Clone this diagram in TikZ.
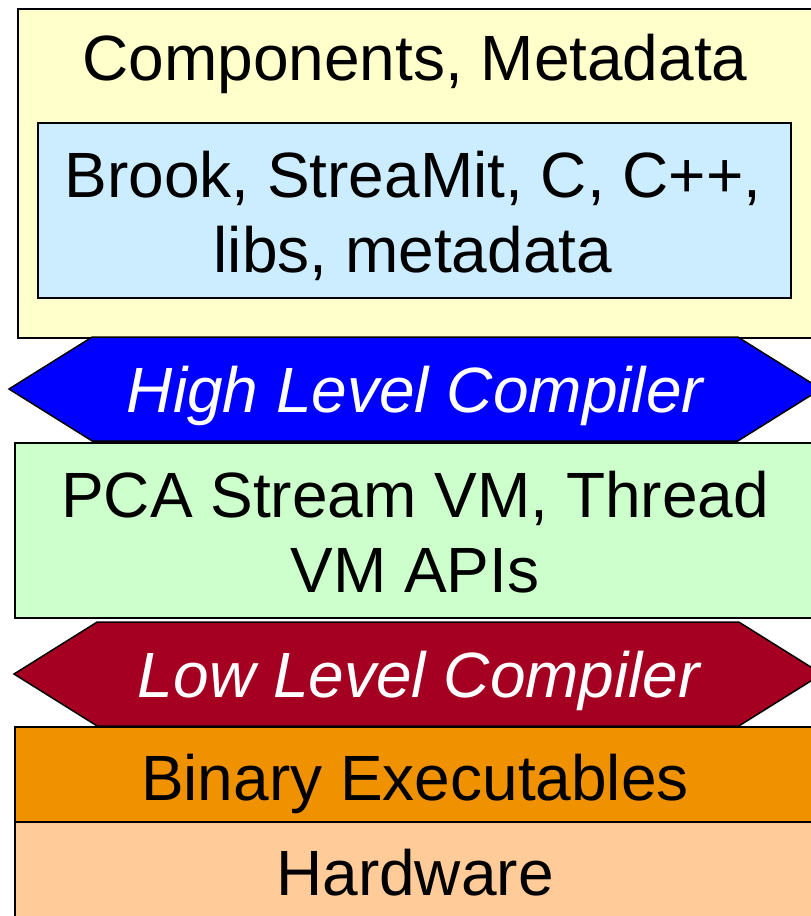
\documentclass[tikz,border=0pt]{standalone}
\usepackage{fontspec}
\setmainfont{Liberation Sans}
\usetikzlibrary{shapes.symbols}
\definecolor{compyellow}{HTML}{FFFFCC}
\definecolor{langblue}{HTML}{CCECFF}
\definecolor{hlcblue}{HTML}{0000FF}
\definecolor{vmgreen}{HTML}{CCFFCC}
\definecolor{llcred}{HTML}{A50021}
\definecolor{binorange}{HTML}{F09100}
\definecolor{hwpeach}{HTML}{FFCC99}
\begin{document}
\begin{tikzpicture}[x=1pt,y=-1pt,
layer/.style={draw=black,line width=1.5pt,inner sep=0pt,outer sep=0pt},
compiler/.style={layer,signal,signal to=west and east,signal pointer angle=64,
    minimum height=104pt},
lbl/.style={anchor=base,inner sep=0pt,align=center,
    font=\fontsize{64}{75}\selectfont}]
\useasboundingbox (0,0) rectangle (811,916);
% layers, top to bottom
\node[layer,fill=compyellow,minimum width=794pt,minimum height=329pt] (comp) at (415,173.5) {};
\node[layer,fill=langblue,minimum width=753pt,minimum height=175pt] (lang) at (414.5,210.5) {};
\node[compiler,fill=hlcblue,minimum width=812pt] (hlc) at (415,389) {};
\node[layer,fill=vmgreen,minimum width=800pt,minimum height=175pt] (vm) at (415,530.5) {};
\node[compiler,fill=llcred,minimum width=808pt] (llc) at (418,674) {};
\node[layer,fill=binorange,minimum width=800pt,minimum height=95pt] (bin) at (415,774.5) {};
\node[layer,fill=hwpeach,minimum width=800pt,minimum height=98pt] (hw) at (415,871) {};
% labels (base of a two-line label is its last line)
\node[lbl] (comptext) at (415,80) {Components, Metadata};
\node[lbl] (langtext) at (413,272) {Brook, StreaMit, C, C++,\\libs, metadata};
\node[lbl,text=white,font=\fontsize{64}{75}\selectfont\itshape] (hlctext) at (415,412) {High Level Compiler};
\node[lbl] (vmtext) at (415,592) {PCA Stream VM, Thread\\VM APIs};
\node[lbl,text=white,font=\fontsize{64}{75}\selectfont\itshape] (llctext) at (419,697) {Low Level Compiler};
\node[lbl] (bintext) at (415,800) {Binary Executables};
\node[lbl] (hwtext) at (415,895) {Hardware};
\end{tikzpicture}
\end{document}
